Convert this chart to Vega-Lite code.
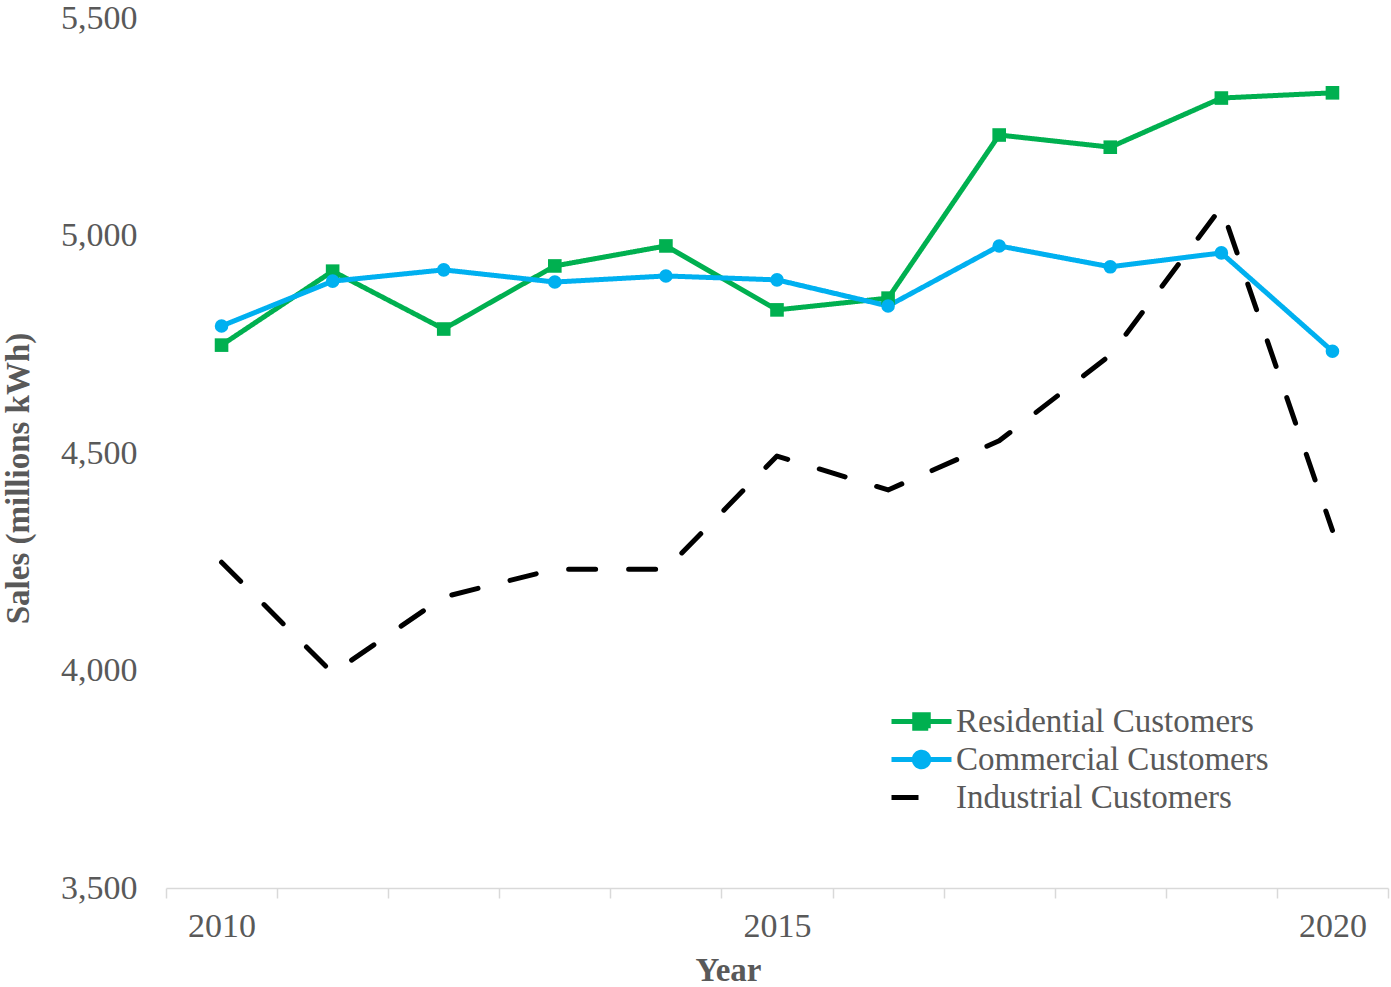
{
  "$schema": "https://vega.github.io/schema/vega-lite/v6.json",
  "width": 1222,
  "height": 870,
  "autosize": "none",
  "padding": {"left": 166, "top": 18, "right": 3, "bottom": 99},
  "config": {"view": {"stroke": null}, "font": "Liberation Serif"},
  "data": {
    "values": [
      {"year": 2010, "series": "Residential Customers", "sales": 4748},
      {"year": 2011, "series": "Residential Customers", "sales": 4918},
      {"year": 2012, "series": "Residential Customers", "sales": 4785},
      {"year": 2013, "series": "Residential Customers", "sales": 4930},
      {"year": 2014, "series": "Residential Customers", "sales": 4976},
      {"year": 2015, "series": "Residential Customers", "sales": 4829},
      {"year": 2016, "series": "Residential Customers", "sales": 4856},
      {"year": 2017, "series": "Residential Customers", "sales": 5231},
      {"year": 2018, "series": "Residential Customers", "sales": 5203},
      {"year": 2019, "series": "Residential Customers", "sales": 5316},
      {"year": 2020, "series": "Residential Customers", "sales": 5328},
      {"year": 2010, "series": "Commercial Customers", "sales": 4792},
      {"year": 2011, "series": "Commercial Customers", "sales": 4895},
      {"year": 2012, "series": "Commercial Customers", "sales": 4921},
      {"year": 2013, "series": "Commercial Customers", "sales": 4893},
      {"year": 2014, "series": "Commercial Customers", "sales": 4907},
      {"year": 2015, "series": "Commercial Customers", "sales": 4898},
      {"year": 2016, "series": "Commercial Customers", "sales": 4838},
      {"year": 2017, "series": "Commercial Customers", "sales": 4976},
      {"year": 2018, "series": "Commercial Customers", "sales": 4928},
      {"year": 2019, "series": "Commercial Customers", "sales": 4960},
      {"year": 2020, "series": "Commercial Customers", "sales": 4734},
      {"year": 2010, "series": "Industrial Customers", "sales": 4249},
      {"year": 2011, "series": "Industrial Customers", "sales": 3994},
      {"year": 2012, "series": "Industrial Customers", "sales": 4169},
      {"year": 2013, "series": "Industrial Customers", "sales": 4233},
      {"year": 2014, "series": "Industrial Customers", "sales": 4233},
      {"year": 2015, "series": "Industrial Customers", "sales": 4493},
      {"year": 2016, "series": "Industrial Customers", "sales": 4415},
      {"year": 2017, "series": "Industrial Customers", "sales": 4528},
      {"year": 2018, "series": "Industrial Customers", "sales": 4725},
      {"year": 2019, "series": "Industrial Customers", "sales": 5065},
      {"year": 2020, "series": "Industrial Customers", "sales": 4322}
    ]
  },
  "encoding": {
    "x": {
      "field": "year",
      "type": "ordinal",
      "scale": {"type": "band", "paddingInner": 0, "paddingOuter": 0},
      "axis": {
        "title": "Year",
        "titleX": 562,
        "labelAngle": 0,
        "labelExpr": "datum.value % 5 === 0 ? datum.label : ''",
        "labelFont": "Liberation Serif",
        "labelFontSize": 34,
        "labelColor": "#595959",
        "labelPadding": 11,
        "tickBand": "extent",
        "ticks": true,
        "tickColor": "#d9d9d9",
        "tickWidth": 1.5,
        "tickSize": 10,
        "domainColor": "#d9d9d9",
        "domainWidth": 1.5,
        "grid": false,
        "titleFont": "Liberation Serif",
        "titleFontSize": 33,
        "titleFontWeight": "bold",
        "titleColor": "#595959",
        "titlePadding": 11
      }
    },
    "y": {
      "field": "sales",
      "type": "quantitative",
      "scale": {"domain": [3500, 5500], "nice": false, "zero": false},
      "axis": {
        "title": "Sales (millions kWh)",
        "titleY": 460,
        "values": [3500, 4000, 4500, 5000, 5500],
        "format": ",.0f",
        "labelFont": "Liberation Serif",
        "labelFontSize": 34,
        "labelColor": "#595959",
        "labelPadding": 29,
        "ticks": false,
        "domain": false,
        "grid": false,
        "titleFont": "Liberation Serif",
        "titleFontSize": 33,
        "titleFontWeight": "bold",
        "titleColor": "#595959",
        "titlePadding": 25
      }
    }
  },
  "layer": [
    {
      "mark": {"type": "line", "strokeWidth": 5, "strokeCap": "round", "strokeJoin": "round"},
      "encoding": {
        "color": {
          "field": "series",
          "type": "nominal",
          "scale": {
            "domain": ["Residential Customers", "Commercial Customers", "Industrial Customers"],
            "range": ["#00b050", "#00b0f0", "#000000"]
          },
          "legend": {
            "title": null,
            "orient": "none",
            "legendX": 738,
            "legendY": 686,
            "labelFont": "Liberation Serif",
            "labelFontSize": 33,
            "labelColor": "#595959",
            "labelLimit": 500,
            "labelOffset": 17,
            "symbolSize": 900,
            "symbolStrokeWidth": 5,
            "rowPadding": 3,
            "encode": {
              "symbols": {
                "update": {
                  "shape": {"signal": "datum.value === 'Residential Customers' ? 'M-2,0H2M-0.45,-0.45H0.45V0.45H-0.45Z' : datum.value === 'Commercial Customers' ? 'M-2,0H2M0.48,0A0.48,0.48 0 1 1 -0.48,0A0.48,0.48 0 1 1 0.48,0Z' : 'M-2,0H0'"},
                  "fill": {"signal": "datum.value === 'Industrial Customers' ? 'transparent' : scale('color', datum.value)"},
                  "strokeDash": {"value": []},
                  "opacity": {"value": 1}
                }
              }
            }
          }
        },
        "strokeDash": {
          "field": "series",
          "type": "nominal",
          "scale": {
            "domain": ["Residential Customers", "Commercial Customers", "Industrial Customers"],
            "range": [[1, 0], [1, 0], [27, 33]]
          },
          "legend": null
        }
      }
    },
    {
      "transform": [{"filter": "datum.series !== 'Industrial Customers'"}],
      "mark": {"type": "point", "filled": true, "opacity": 1, "size": 185},
      "encoding": {
        "color": {"field": "series", "type": "nominal", "legend": null},
        "shape": {
          "field": "series",
          "type": "nominal",
          "scale": {"domain": ["Residential Customers", "Commercial Customers"], "range": ["square", "circle"]},
          "legend": null
        }
      }
    }
  ]
}
